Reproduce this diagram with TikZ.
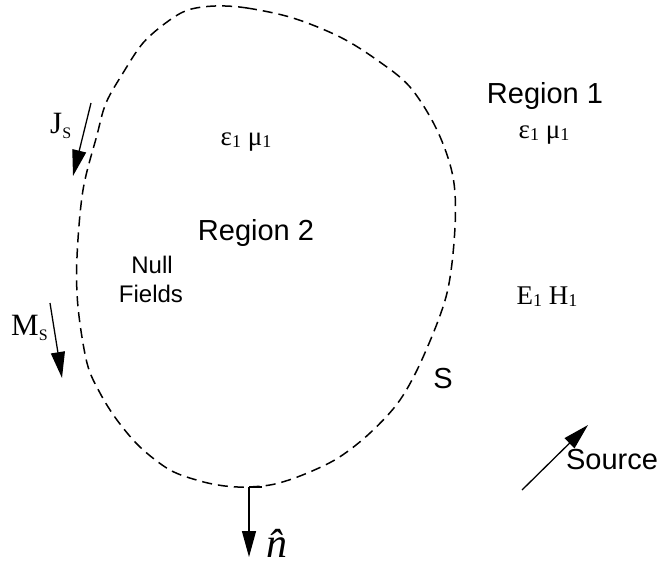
\documentclass[tikz,border=0pt]{standalone}
\usepackage{fontspec}
\setmainfont{Liberation Serif}
\setsansfont{Liberation Sans}
\usetikzlibrary{arrows.meta}
\newcommand\capsub[1]{\raisebox{-5pt}{\fontsize{16}{16}\selectfont #1}}
\newcommand\numsub[1]{\raisebox{-2pt}{\fontsize{18}{18}\selectfont #1}}
\begin{document}
\begin{tikzpicture}[x=1pt,y=-1pt,
  boundary/.style={line width=1.5pt, dash pattern=on 10pt off 6pt},
  sanslab/.style={font=\fontsize{29}{33}\selectfont\sffamily, inner sep=0pt},
  nulllab/.style={font=\fontsize{24}{29}\selectfont\sffamily, inner sep=0pt},
  seriflab/.style={font=\fontsize{27}{30}\selectfont, inner sep=0pt},
  curlab/.style={font=\fontsize{31}{34}\selectfont, inner sep=0pt},
  fieldarrow/.style={line width=1.3pt, -{Triangle[length=26pt,width=14pt]}}]
\useasboundingbox (0,0) rectangle (658,563);
% closed surface S
\draw[boundary] plot[smooth cycle, tension=0.55] coordinates {
 (215,6) (247,8) (293,18) (340,37) (377,60) (410,87) (437,130) (453,177)
 (455,227) (447,293) (424,355) (400,400) (370,433) (338,458) (305,474)
 (275,484) (248,487) (225,486) (200,481) (170,470) (140,447) (117,420)
 (100,393) (87,363) (78,307) (77,257) (83,190) (97,135) (106,103) (123,73)
 (143,43) (167,22) (188,10)};
% labels
\node[sanslab, anchor=base] (reg1) at (545,103) {Region 1};
\node[sanslab, anchor=base] (reg2) at (256,240) {Region 2};
\node[nulllab, anchor=base] (null) at (152,273) {Null};
\node[nulllab, anchor=base] (fields) at (151,302) {Fields};
\node[sanslab, anchor=base] (slab) at (443,388) {S};
\node[sanslab, anchor=base] (src) at (612,469) {Source};
\node[seriflab, anchor=base] (em2) at (246,145) {ε\numsub{1} μ\numsub{1}};
\node[seriflab, anchor=base] (em1) at (544,138) {ε\numsub{1} μ\numsub{1}};
\node[seriflab, anchor=base] (eh) at (547,304) {E\numsub{1} H\numsub{1}};
\node[curlab, anchor=base west] (js) at (50,133) {J\capsub{S}};
\node[curlab, anchor=base west] (ms) at (11,335) {M\capsub{S}};
\node[font=\fontsize{42}{46}\selectfont\itshape, inner sep=0pt, text depth=0pt, anchor=base] (nhat) at (277,557) {\^{n}};
% arrows
\coordinate (jsa) at (91,103);
\coordinate (jsb) at (73,176);
\draw[fieldarrow] (jsa) -- (jsb);
\coordinate (msa) at (50,303);
\coordinate (msb) at (62,378);
\draw[fieldarrow] (msa) -- (msb);
\coordinate (sra) at (522,490);
\coordinate (srb) at (588,425);
\draw[fieldarrow] (sra) -- (srb);
\coordinate (nc) at (262,487);
\coordinate (na) at (249,487);
\coordinate (nb) at (249,557);
\draw[line width=1.3pt] (nc) -- (na);
\draw[fieldarrow] (na) -- (nb);
\end{tikzpicture}
\end{document}
